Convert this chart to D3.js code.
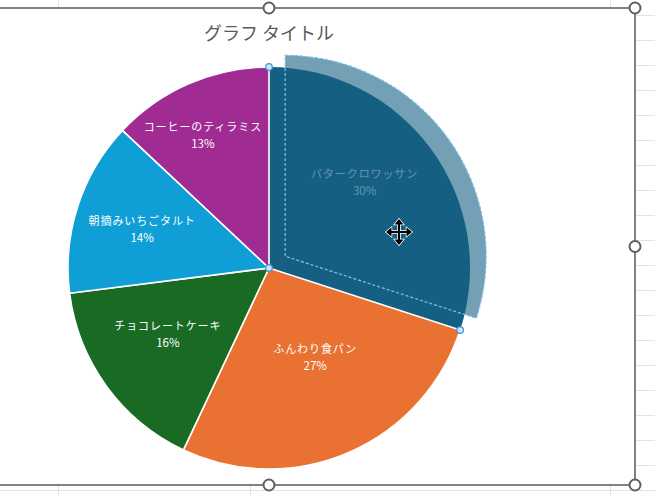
<!DOCTYPE html>
<html><head><meta charset="utf-8">
<script src="https://cdn.jsdelivr.net/npm/d3@7"></script>
<style>
html,body{margin:0;padding:0;background:#fff;}
svg{display:block;}
text{font-family:"Noto Sans CJK JP","Noto Sans",sans-serif;}
</style></head>
<body>
<svg id="c" width="655" height="495"></svg>
<script>
// ---- data ----
const title = "グラフ タイトル";
const categories = ["バタークロワッサン","ふんわり食パン","チョコレートケーキ","朝摘みいちごタルト","コーヒーのティラミス"];
const values = [30, 27, 16, 14, 13];
const colors = ["#156082","#E97132","#196B24","#0F9ED5","#A02B93"];

// ---- layout (styles, not data) ----
const W = 655, H = 495;
const cx = 269, cy = 268, R = 201;
const frame = {left: -97, top: 8, right: 635, bottom: 485};
const explode = 20;           // drag preview offset of the selected slice
const selected = 0;
const labelR = [0.64, 0.50, 0.60, 0.66, 0.74];
const labelNudge = [-6, -4, 3, -1, -3]; // degrees

const svg = d3.select("#c");

// spreadsheet gridlines outside the chart frame
const grid = svg.append("g").attr("stroke","#e2e2e2").attr("stroke-width",1);
d3.range(15, H, 25).forEach(y=>{
  grid.append("line").attr("x1",frame.right+1).attr("x2",W).attr("y1",y+0.5).attr("y2",y+0.5);
});
grid.append("line").attr("x1",0).attr("x2",frame.right).attr("y1",490.5).attr("y2",490.5);
[58, 610].forEach(x=>grid.append("line").attr("x1",x+0.5).attr("x2",x+0.5).attr("y1",0).attr("y2",frame.top));
[58, 250, 610].forEach(x=>grid.append("line").attr("x1",x+0.5).attr("x2",x+0.5).attr("y1",frame.bottom+1).attr("y2",H));

// chart area
svg.append("rect").attr("x",frame.left).attr("y",frame.top)
  .attr("width",frame.right-frame.left).attr("height",frame.bottom-frame.top)
  .attr("fill","#fff").attr("stroke","#5a5a5a").attr("stroke-width",1.5);

// title
svg.append("text").attr("x",cx).attr("y",40).attr("text-anchor","middle")
  .attr("font-size",18).attr("fill","#595959").text(title);

const pie = d3.pie().sort(null).value(d=>d.v);
const data = categories.map((c,i)=>({c, v: values[i], col: colors[i]}));
const arcs = pie(data);
const total = d3.sum(values);
const arc = d3.arc().innerRadius(0).outerRadius(R);
const g = svg.append("g").attr("transform",`translate(${cx},${cy})`);

// ghost (drag preview) of selected slice
const sel = arcs[selected];
const mid = (sel.startAngle+sel.endAngle)/2;
const gx = explode*Math.sin(mid), gy = -explode*Math.cos(mid);
g.append("path").attr("d",arc(sel)).attr("transform",`translate(${gx},${gy})`)
  .attr("fill",sel.data.col).attr("opacity",0.6);

// slices (selected slice without its own border)
g.selectAll("path.slice").data(arcs).enter().append("path")
  .attr("class","slice").attr("d",arc)
  .attr("fill",d=>d.data.col)
  .attr("stroke",(d,i)=>i===selected?"none":"#fff").attr("stroke-width",1.6)
  .attr("stroke-linejoin","round");

// ghost dashed outline
g.append("path").attr("d",arc(sel)).attr("transform",`translate(${gx},${gy})`)
  .attr("fill","none").attr("stroke","#86c0ec").attr("stroke-width",1.2)
  .attr("stroke-dasharray","3 2");

// labels
const pct = d3.format(".0%");
arcs.forEach((a,i)=>{
  const ang = (a.startAngle+a.endAngle)/2 + labelNudge[i]*Math.PI/180;
  const r = R*labelR[i];
  const x = r*Math.sin(ang), y = -r*Math.cos(ang);
  const t = g.append("text").attr("text-anchor","middle")
    .attr("fill","#fff").attr("opacity", i===selected?0.32:1);
  t.append("tspan").attr("x",x).attr("y",y-4).attr("font-size",11)
    .attr("letter-spacing",0.9).text(a.data.c);
  t.append("tspan").attr("x",x).attr("y",y+13).attr("font-size",11.5)
    .text(pct(a.data.v/total));
});

// selection handles on selected slice
const hs = [[0,0],[R*Math.sin(sel.startAngle),-R*Math.cos(sel.startAngle)],[R*Math.sin(sel.endAngle),-R*Math.cos(sel.endAngle)]];
hs.forEach(p=>g.append("circle").attr("cx",p[0]).attr("cy",p[1]).attr("r",3.3)
  .attr("fill","#cfe5f8").attr("stroke","#3d95dd").attr("stroke-width",1.2));

// chart frame handles
[[cx,frame.top],[frame.right,frame.top],[frame.right,(frame.top+frame.bottom)/2],[cx,frame.bottom],[frame.right,frame.bottom]]
  .forEach(p=>svg.append("circle").attr("cx",p[0]).attr("cy",p[1]).attr("r",5.5)
    .attr("fill","#fff").attr("stroke","#5f5f5f").attr("stroke-width",2));

// move cursor
const mc = svg.append("g").attr("transform","translate(399,232)");
const arrow = "M0,-13 L4.5,-7.5 L1,-7.5 L1,-1 L7.5,-1 L7.5,-4.5 L13,0 L7.5,4.5 L7.5,1 L1,1 L1,7.5 L4.5,7.5 L0,13 L-4.5,7.5 L-1,7.5 L-1,1 L-7.5,1 L-7.5,4.5 L-13,0 L-7.5,-4.5 L-7.5,-1 L-1,-1 L-1,-7.5 L-4.5,-7.5 Z";
mc.append("path").attr("d",arrow).attr("fill","#000").attr("stroke","#fff").attr("stroke-width",1.5)
  .attr("paint-order","stroke").attr("stroke-linejoin","miter");
</script>
</body></html>
